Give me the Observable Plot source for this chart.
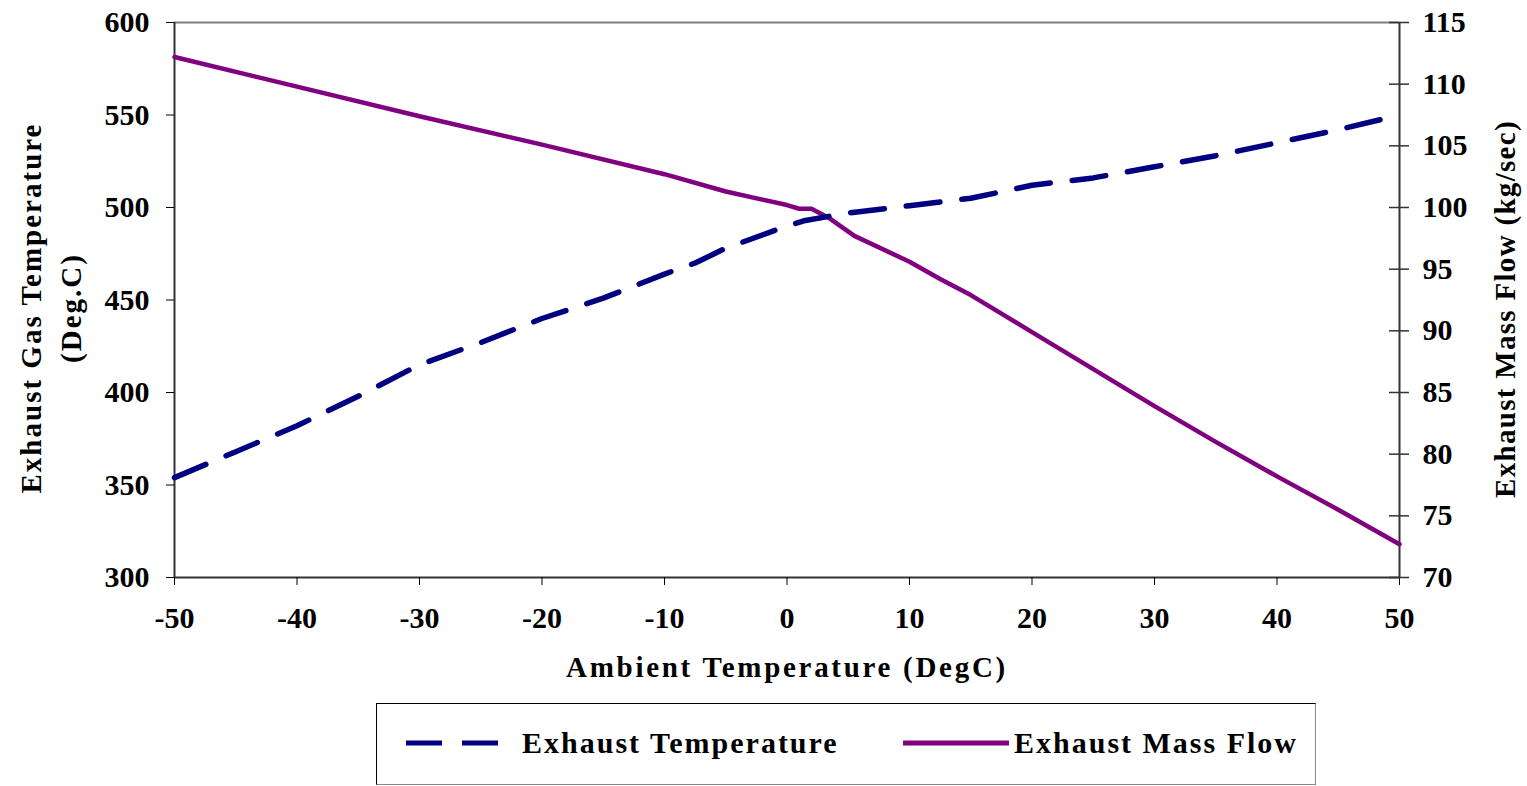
<!DOCTYPE html>
<html>
<head>
<meta charset="utf-8">
<script src="https://cdn.jsdelivr.net/npm/d3@7"></script>
<script src="https://cdn.jsdelivr.net/npm/@observablehq/plot@0.6"></script>
<style>
  body { margin: 0; background: #fff; font-family: "Liberation Serif", "Times New Roman", serif; }
  #wrap { position: relative; width: 1527px; height: 786px; }
  .xtitle text { letter-spacing: 2.7px; }
  .ltitle text { letter-spacing: 2px; }
  .rtitle text { letter-spacing: 1.3px; }
  #legend { position: absolute; left: 376px; top: 703px; width: 938px; height: 80px;
            border: 1px solid #000; border-right-color: #888; border-bottom-color: #888; }
  #legend .item { position: absolute; top: 0; height: 78px; display: flex; align-items: center;
            font: bold 30px "Liberation Serif", serif; letter-spacing: 2px; color: #000; }
</style>
</head>
<body>
<div id="wrap"><div id="chart"></div><div id="legend"></div></div>
<script>
// ---- data ----
const tempAmbient = [-50,-45,-40,-35,-30,-25,-20,-15,-10,-7.5,-5,0,1.5,5,10,15,20,25,30,35,40,45,50];
const exhaustTemp = [354,368,382,398,415,427,440,451,464,470,478,490,493,497,501,505,512,516,522,528,535,542,550];

const flowAmbient = [-50,-40,-30,-20,-10,-5,0,1,2,3.5,5.5,10,12.5,15,20,25,30,35,40,45,50];
const exhaustFlow = [112.2,109.8,107.4,105.1,102.7,101.3,100.2,99.9,99.9,99.1,97.7,95.6,94.2,92.9,89.9,86.9,83.9,81.0,78.2,75.5,72.7];

const xTicks = [-50,-40,-30,-20,-10,0,10,20,30,40,50];
const leftTicks = [300,350,400,450,500,550,600];
const rightTicks = [70,75,80,85,90,95,100,105,110,115];

const xDomain = [-50, 50];
const leftDomain = [300, 600];
const rightDomain = [70, 115];

const tempColor = "#000080";
const flowColor = "#800080";

// map right-axis values onto the left scale
const toLeft = v => leftDomain[0] + (v - rightDomain[0]) * (leftDomain[1] - leftDomain[0]) / (rightDomain[1] - rightDomain[0]);
const fromLeft = v => rightDomain[0] + (v - leftDomain[0]) * (rightDomain[1] - rightDomain[0]) / (leftDomain[1] - leftDomain[0]);

const tempData = tempAmbient.map((x, i) => ({x, y: exhaustTemp[i]}));
const flowData = flowAmbient.map((x, i) => ({x, y: exhaustFlow[i]}));

const font = "Liberation Serif";
const tickFont = 30;
const chart = Plot.plot({
  width: 1527,
  height: 700,
  marginLeft: 174,
  marginRight: 128,
  marginTop: 22,
  marginBottom: 123,
  style: { fontFamily: font, fontSize: "28px", fontWeight: "bold", color: "#000", background: "#fff" },
  x: { domain: xDomain },
  y: { domain: leftDomain },
  marks: [
    // frame
    Plot.ruleY([leftDomain[1]], { stroke: "#808080", strokeWidth: 2 }),
    Plot.ruleY([leftDomain[0]], { stroke: "#333", strokeWidth: 2 }),
    Plot.ruleX([xDomain[0]], { stroke: "#333", strokeWidth: 2 }),
    Plot.ruleX([xDomain[1]], { stroke: "#333", strokeWidth: 2 }),
    // axes
    Plot.axisX({ ticks: xTicks, tickSize: 8, tickPadding: 21, label: null, tickFormat: d => String(d), fontSize: tickFont }),
    Plot.axisY({ anchor: "left", ticks: leftTicks, tickSize: 8, tickPadding: 17, label: null, fontSize: tickFont }),
    Plot.ruleY(rightTicks, { y: d => toLeft(d), x1: xDomain[1], x2: xDomain[1], insetLeft: -10, insetRight: -10, stroke: "#333", strokeWidth: 1.5 }),
    Plot.axisY({ anchor: "right", ticks: rightTicks.map(toLeft), tickSize: 0, tickPadding: 23, label: null,
                 tickFormat: d => String(Math.round(fromLeft(d))), fontSize: tickFont }),
    // series
    Plot.line(flowData, { x: "x", y: d => toLeft(d.y), stroke: flowColor, strokeWidth: 4.5, curve: "linear" }),
    Plot.line(tempData, { x: "x", y: "y", stroke: tempColor, strokeWidth: 5.5, strokeDasharray: "34,22", curve: "linear" }),
    // axis titles
    Plot.text(["Ambient Temperature (DegC)"], { frameAnchor: "bottom", dy: 99, fontSize: 29, fontWeight: "bold", className: "xtitle" }),
    Plot.text(["Exhaust Gas Temperature\n(Deg.C)"], { frameAnchor: "left", textAnchor: "middle", dx: -126, dy: 8, rotate: -90, lineHeight: 1.36, fontSize: 29, fontWeight: "bold", className: "ltitle" }),
    Plot.text(["Exhaust Mass Flow (kg/sec)"], { frameAnchor: "right", textAnchor: "middle", dx: 106, dy: 9, rotate: -90, fontSize: 29, fontWeight: "bold", className: "rtitle" })
  ]
});
document.getElementById("chart").appendChild(chart);

// legend
const legend = document.getElementById("legend");
function addItem(left, label, color, dash, gap) {
  const item = document.createElement("div");
  item.className = "item";
  item.style.left = left + "px";
  const svg = d3.create("svg").attr("width", 106).attr("height", 12).style("margin-right", gap + "px");
  svg.append("line").attr("x1", 0).attr("x2", 106).attr("y1", 6).attr("y2", 6)
     .attr("stroke", color).attr("stroke-width", 5).attr("stroke-dasharray", dash || null);
  item.appendChild(svg.node());
  const span = document.createElement("span");
  span.textContent = label;
  item.appendChild(span);
  legend.appendChild(item);
}
addItem(29, "Exhaust Temperature", tempColor, "36,20", 10);
addItem(526, "Exhaust Mass Flow", flowColor, null, 5);
</script>
</body>
</html>
